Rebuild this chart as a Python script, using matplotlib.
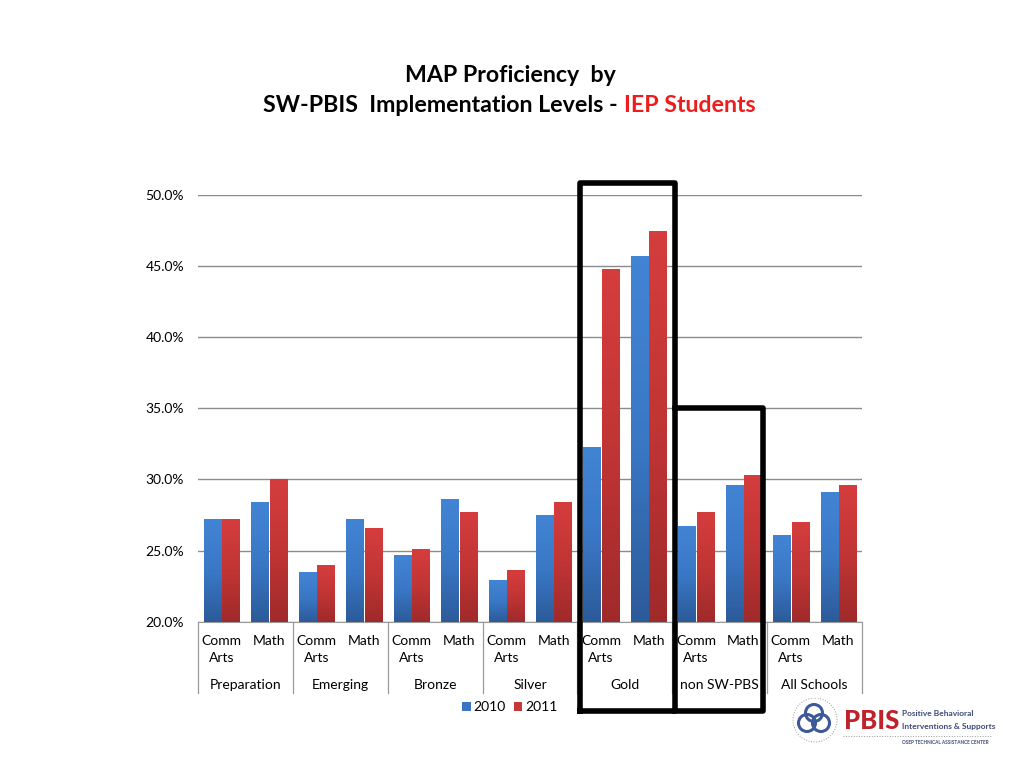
import numpy as np
import matplotlib
matplotlib.use("Agg")
from matplotlib import pyplot as plt
from matplotlib.colors import LinearSegmentedColormap
from matplotlib.patches import Circle
import matplotlib.transforms as mtransforms

# MAP proficiency of IEP students, by SW-PBIS implementation level
groups = ['Preparation', 'Emerging', 'Bronze', 'Silver', 'Gold', 'non SW-PBS', 'All Schools']
subjects = ['Comm\nArts', 'Math']
years = ['2010', '2011']
vals_2010 = [27.2, 28.4, 23.5, 27.2, 24.7, 28.6, 22.9, 27.5, 32.3, 45.7, 26.7, 29.6, 26.1, 29.1]
vals_2011 = [27.2, 30.0, 24.0, 26.6, 25.1, 27.7, 23.6, 28.4, 44.8, 47.5, 27.7, 30.3, 27.0, 29.6]
yticks = [20, 25, 30, 35, 40, 45, 50]

plt.rcParams['font.family'] = ['Lato', 'DejaVu Sans']

fig = plt.figure(figsize=(10.24, 7.68), dpi=100)
ax = fig.add_axes([198 / 1024, 1 - 621.7 / 768, 664 / 1024, 426.7 / 768])

n = len(vals_2010)
x = np.arange(n)
w = 0.36
gap = 0.03
blue_cmap = LinearSegmentedColormap.from_list('b', ['#2c5b9a', '#3a78c6', '#4284d4'])
red_cmap = LinearSegmentedColormap.from_list('r', ['#a02a2a', '#c13535', '#d53d3d'])

grad = np.linspace(0, 1, 64).reshape(-1, 1)
b1 = ax.bar(x - w / 2 - gap / 2, vals_2010, w, color='#3a74c0', label=years[0], zorder=2)
b2 = ax.bar(x + w / 2 + gap / 2, vals_2011, w, color='#c63838', label=years[1], zorder=2)
for bars, cmap in ((b1, blue_cmap), (b2, red_cmap)):
    for bar in bars:
        x0 = bar.get_x()
        im = ax.imshow(grad, cmap=cmap, origin='lower', aspect='auto', zorder=3,
                       extent=[x0, x0 + bar.get_width(), yticks[0], bar.get_height()])
        im.set_clip_path(bar)

ax.set_xlim(-0.5, n - 0.5)
ax.set_ylim(yticks[0], yticks[-1])
ax.set_yticks(yticks)
ax.set_yticklabels(['%.1f%%' % v for v in yticks], fontsize=10)
ax.set_xticks([])
ax.tick_params(axis='y', length=0, pad=10)
ax.grid(axis='y', color='#8c8c8c', lw=1, zorder=0)
for s in ['top', 'right', 'left']:
    ax.spines[s].set_visible(False)
ax.spines['bottom'].set_color('#9a9a9a')

# two-level category axis
trans = mtransforms.blended_transform_factory(ax.transData, ax.transAxes)
for i in range(n):
    ax.text(x[i], -0.032, subjects[i % 2], transform=trans, ha='center', va='top',
            fontsize=10, linespacing=1.45)
for g, name in enumerate(groups):
    ax.text(2 * g + 0.5, -0.148, name, transform=trans, ha='center', va='center', fontsize=10)
for b in range(len(groups) + 1):
    ax.plot([2 * b - 0.5] * 2, [0, -0.168], transform=trans, color='#9a9a9a', lw=0.9,
            clip_on=False)

# highlight boxes
ax.plot([7.55, 7.55, 9.55, 9.55, 7.55], [13.7, 50.85, 50.85, 13.7, 13.7], color='black',
        lw=4, solid_joinstyle='round', clip_on=False, zorder=5)
ax.plot([9.55, 11.42, 11.42, 9.55], [35.0, 35.0, 13.7, 13.7], color='black',
        lw=4, solid_joinstyle='round', clip_on=False, zorder=5)

fig.legend(handles=[b1, b2], loc='center', bbox_to_anchor=(510 / 1024, 1 - 707 / 768), ncol=2,
           frameon=False, fontsize=10, handlelength=0.6, handleheight=0.6,
           handletextpad=0.2, columnspacing=0.6)

# title
fig.text(510 / 1024, 1 - 75 / 768, 'MAP Proficiency  by', ha='center', va='center',
         fontsize=16.7, fontweight='bold')
fig.text(618 / 1024, 1 - 106 / 768, 'SW-PBIS  Implementation Levels -', ha='right',
         va='center', fontsize=16.7, fontweight='bold')
fig.text(624 / 1024, 1 - 106 / 768, 'IEP Students', ha='left', va='center',
         fontsize=16.7, fontweight='bold', color='#ee1c1c')

# PBIS logo, drawn in pixel coords
lg = fig.add_axes([780 / 1024, 0, 244 / 1024, 70 / 768])
lg.set_xlim(780, 1024)
lg.set_ylim(768, 698)
lg.axis('off')
lg.add_patch(Circle((815, 720), 22, fill=False, ec='#9a9a9a', lw=0.7, ls=':'))
for cx, cy in ((814, 713), (807, 723), (821, 723)):
    lg.add_patch(Circle((cx, cy), 8.5, fill=False, ec='#3c5a9a', lw=2.2))
lg.text(844, 721, 'PBIS', fontsize=18.5, fontweight='black', color='#c0222b',
        ha='left', va='center')
lg.text(902, 714, 'Positive Behavioral', fontsize=6.0, fontweight='bold', color='#3d4a7a',
        ha='left', va='center')
lg.text(902, 727, 'Interventions & Supports', fontsize=6.0, fontweight='bold', color='#3d4a7a',
        ha='left', va='center')
lg.plot([843, 992], [736, 736], color='#9a9a9a', lw=0.7, ls=':')
lg.text(902, 742, 'OSEP TECHNICAL ASSISTANCE CENTER', fontsize=3.4, fontweight='bold',
        color='#3d4a7a', ha='left', va='center')

fig.savefig('out.png', dpi=100)
